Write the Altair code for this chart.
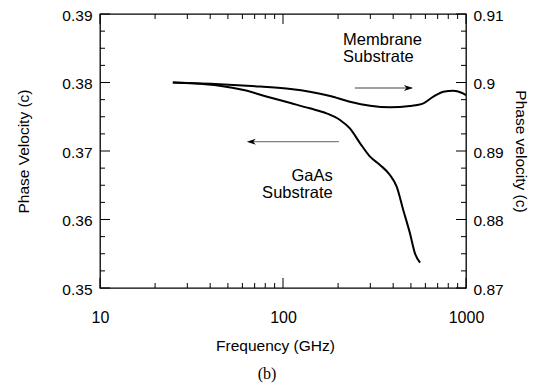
import altair as alt
import pandas as pd

# ---- data ----
gaas_freq = [25, 32, 45, 61, 82, 110, 140, 173, 205, 232, 264, 299, 339, 384, 418, 454, 494, 526, 561]
gaas_v = [0.3800, 0.37988, 0.37953, 0.37890, 0.37793, 0.37700, 0.37623, 0.37550, 0.37452,
          0.37331, 0.37112, 0.36917, 0.36796, 0.36650, 0.36479, 0.36139, 0.35798, 0.35506, 0.35369]
mem_freq = [25, 45, 75, 110, 140, 181, 232, 299, 384, 494, 585, 663, 752, 852, 946, 1000]
mem_v = [0.9000, 0.89975, 0.89940, 0.89905, 0.89866, 0.89803, 0.89720, 0.89661, 0.89638,
         0.89657, 0.89696, 0.89793, 0.89866, 0.89880, 0.89851, 0.89817]

left_ticks = [0.35, 0.36, 0.37, 0.38, 0.39]
right_ticks = [0.87, 0.88, 0.89, 0.90, 0.91]
y_minor = [0.3525, 0.355, 0.3575, 0.3625, 0.365, 0.3675, 0.3725, 0.375, 0.3775,
           0.3825, 0.385, 0.3875]
x_ticks = [10, 100, 1000]
x_minor = [20, 30, 40, 50, 60, 70, 80, 90, 200, 300, 400, 500, 600, 700, 800, 900]

mem_label_f = [213, 213]
mem_label_v = [0.3862, 0.38365]
mem_label_t = ["Membrane", "Substrate"]
gaas_label_f = [187, 187]
gaas_label_v = [0.36635, 0.36394]
gaas_label_t = ["GaAs", "Substrate"]

arrow_f0 = [247, 202]
arrow_f1 = [505, 67]
arrow_v = [0.3792, 0.37136]
head_right_f, head_right_v = [513], [0.3792]
head_left_f, head_left_v = [63.4], [0.37136]

W, H = 366, 274
FONT = "Liberation Sans"

xscale = alt.Scale(type="log", domain=[10, 1000], nice=False)
lscale = alt.Scale(domain=[0.35, 0.39], nice=False, zero=False)
rscale = alt.Scale(domain=[0.87, 0.91], nice=False, zero=False)

x_axis = alt.Axis(values=x_ticks, format="d", ticks=False, labelPadding=21, labelFontSize=16,
                  labelFlush=False, labelOverlap=False,
                  title="Frequency (GHz)", titleX=175, titleY=62, titleBaseline="alphabetic",
                  titleAlign="center", titleFontSize=15.5, grid=False, orient="bottom")
left_axis = alt.Axis(values=left_ticks, format=".2f", ticks=False, labelPadding=8, labelFontSize=15.5,
                     labelOffset=1, orient="left", labelFlush=False, labelOverlap=False,
                     title="Phase Velocity (c)", titleX=-77, titleY=137, titleBaseline="middle",
                     titleAngle=270, titleAlign="center", titleFontSize=15.5, grid=False)
right_axis = alt.Axis(values=right_ticks, format="~g", ticks=False, labelPadding=7, labelFontSize=15.5,
                      labelOffset=1, orient="right", labelFlush=False, labelOverlap=False,
                      title="Phase velocity (c)", titleX=54, titleY=137,
                      titleBaseline="middle", titleAngle=90, titleAlign="center",
                      titleFontSize=15.5, grid=False)


def X(field):
    return alt.X(field, type="quantitative", scale=xscale, axis=x_axis)


def YL(field):
    return alt.Y(field, type="quantitative", scale=lscale, axis=left_axis)


gaas = alt.Chart(pd.DataFrame({"f": gaas_freq, "v": gaas_v})).mark_line(
    color="black", strokeWidth=2, interpolate="monotone").encode(x=X("f"), y=YL("v"))

mem = alt.Chart(pd.DataFrame({"f": mem_freq, "v": mem_v})).mark_line(
    color="black", strokeWidth=2, interpolate="monotone").encode(
    x=X("f"), y=alt.Y("v:Q", scale=rscale, axis=right_axis))


def yticks(vals, x0, x1):
    return alt.Chart(pd.DataFrame({"v": vals})).mark_rule(color="black", strokeWidth=1).encode(
        y=YL("v"), x=alt.value(x0), x2=alt.value(x1))


def xticks(vals, y0, y1):
    return alt.Chart(pd.DataFrame({"f": vals})).mark_rule(color="black", strokeWidth=1).encode(
        x=X("f"), y=alt.value(y0), y2=alt.value(y1))


tick_layers = [
    yticks(left_ticks, 0, 10), yticks(y_minor, 0, 5),
    yticks(left_ticks, W, W - 10), yticks(y_minor, W, W - 5),
    xticks(x_ticks, H, H - 10), xticks(x_minor, H, H - 5),
    xticks(x_ticks, 0, 10), xticks(x_minor, 0, 5),
]

mem_text = alt.Chart(pd.DataFrame({"f": mem_label_f, "v": mem_label_v, "t": mem_label_t})).mark_text(
    align="left", baseline="middle", font=FONT, fontSize=16.5, color="black").encode(
    x=X("f"), y=YL("v"), text="t:N")
gaas_text = alt.Chart(pd.DataFrame({"f": gaas_label_f, "v": gaas_label_v, "t": gaas_label_t})).mark_text(
    align="right", baseline="middle", font=FONT, fontSize=16.5, color="black").encode(
    x=X("f"), y=YL("v"), text="t:N")

arrows = alt.Chart(pd.DataFrame({"f0": arrow_f0, "f1": arrow_f1, "v": arrow_v})).mark_rule(
    color="#808080", strokeWidth=1.3).encode(x=X("f0"), x2="f1:Q", y=YL("v"))

head_r = alt.Chart(pd.DataFrame({"f": head_right_f, "v": head_right_v})).mark_point(
    shape="M0,0 L-1.8,-0.6 L-1.3,0 L-1.8,0.6 Z", filled=True, color="black", size=100, opacity=1).encode(
    x=X("f"), y=YL("v"))
head_l = alt.Chart(pd.DataFrame({"f": head_left_f, "v": head_left_v})).mark_point(
    shape="M0,0 L1.8,-0.6 L1.3,0 L1.8,0.6 Z", filled=True, color="black", size=100, opacity=1).encode(
    x=X("f"), y=YL("v"))

caption = alt.Chart(pd.DataFrame({"t": ["(b)"]})).mark_text(
    font="Liberation Serif", fontSize=16, color="black", baseline="middle", align="center").encode(
    text="t:N", x=alt.value(167), y=alt.value(360))

left_layer = alt.layer(gaas, *tick_layers, mem_text, gaas_text, arrows, head_r, head_l, caption)
right_layer = alt.layer(mem)

chart = alt.layer(left_layer, right_layer).resolve_scale(y="independent").properties(
    width=W, height=H,
    autosize=alt.AutoSizeParams(type="none"),
    padding={"left": 92, "top": 6, "right": 63, "bottom": 95},
).configure_view(stroke="black", strokeWidth=1.3).configure_axis(
    domain=False, labelFont=FONT, titleFont=FONT, labelColor="black", titleColor="black",
    titleFontWeight="normal")

chart.save("out.html", embed_options={"renderer": "svg", "actions": False})
